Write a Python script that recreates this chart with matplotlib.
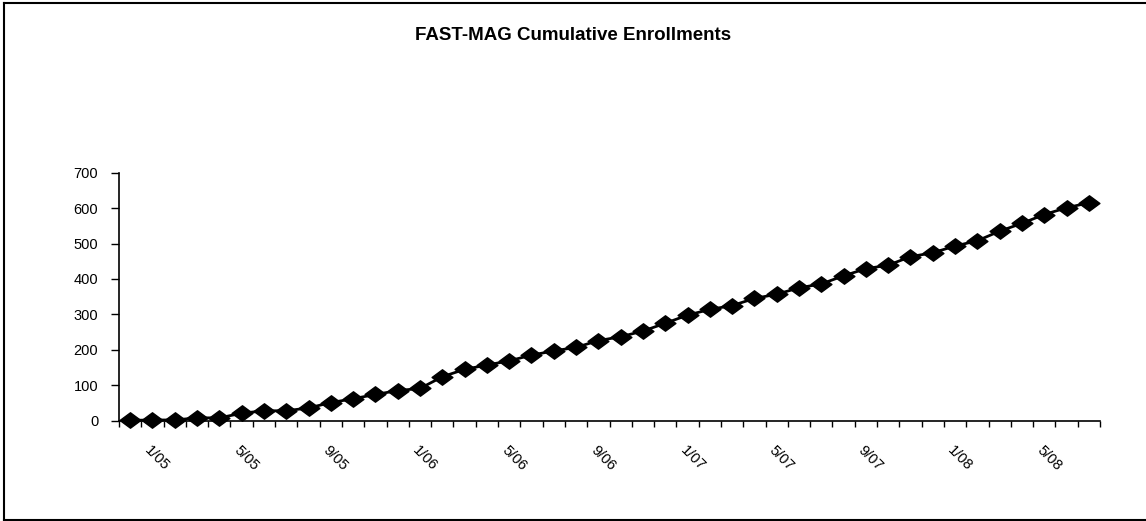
"""FAST-MAG cumulative enrollments, monthly, 1/05 through 8/08."""

import matplotlib

matplotlib.use("Agg")

import matplotlib.pyplot as plt  # noqa: E402
from matplotlib.lines import Line2D  # noqa: E402
from matplotlib.path import Path  # noqa: E402
from matplotlib.transforms import ScaledTranslation  # noqa: E402

# Monthly categories, Jan 2005 .. Aug 2008
months = [f"{m}/{y:02d}" for y in (5, 6, 7, 8) for m in range(1, 13)][:44]
enrollments = [
    1, 2, 2, 8, 8, 21, 28, 28, 36, 51, 62, 74,
    85, 91, 124, 145, 157, 169, 185, 197, 207, 226, 237, 253,
    275, 298, 314, 325, 345, 357, 375, 386, 409, 429, 439, 463,
    474, 493, 508, 535, 557, 582, 601, 615,
]
label_every = 4
y_ticks = [0, 100, 200, 300, 400, 500, 600, 700]

_INK = "#000000"
_FONT = "Liberation Sans"

plt.rcParams["font.family"] = [_FONT, "DejaVu Sans"]

W, H, DPI = 1146, 521, 100
fig = plt.figure(figsize=(W / DPI, H / DPI), dpi=DPI)
ax = fig.add_axes([119 / W, 1 - 420.7 / H, 981 / W, 248 / H])

# Excel-style diamond, a bit wider than tall
diamond = Path([(-1, 0), (0, 0.74), (1, 0), (0, -0.74), (-1, 0)],
               [Path.MOVETO, Path.LINETO, Path.LINETO, Path.LINETO, Path.CLOSEPOLY])

x = list(range(len(months)))
ax.plot(x, enrollments, color=_INK, lw=2, marker=diamond, markersize=15,
        markerfacecolor=_INK, markeredgecolor=_INK, clip_on=False, zorder=3)

ax.set_xlim(-0.5, len(months) - 0.5)
ax.set_ylim(0, 700)

for side in ("top", "right"):
    ax.spines[side].set_visible(False)
for side in ("left", "bottom"):
    ax.spines[side].set_color(_INK)
    ax.spines[side].set_linewidth(1.2)

# y axis
ax.set_yticks(y_ticks)
ax.set_yticklabels([str(v) for v in y_ticks])
ax.tick_params(axis="y", direction="out", length=6, width=1, color=_INK,
               pad=9, labelsize=10.5, labelcolor=_INK)

# x axis: tick marks between categories, labels every 4 months
ax.set_xticks([i - 0.5 for i in range(len(months) + 1)], minor=True)
label_pos = x[::label_every]
ax.set_xticks(label_pos)
ax.set_xticklabels([months[i] for i in label_pos])
ax.tick_params(axis="x", which="minor", direction="out", length=4, width=1, color=_INK)
ax.tick_params(axis="x", which="major", length=0, pad=16, labelsize=10.5, labelcolor=_INK)
shift = ScaledTranslation(22 / DPI, 0, fig.dpi_scale_trans)
for lbl in ax.get_xticklabels():
    lbl.set_rotation(-45)
    lbl.set_rotation_mode("anchor")
    lbl.set_ha("left")
    lbl.set_va("top")
    lbl.set_transform(lbl.get_transform() + shift)

fig.text(0.5, 1 - 39.5 / H, "FAST-MAG Cumulative Enrollments", ha="center",
         va="baseline", fontsize=13.5, fontweight="bold", color=_INK)

# chart-area frame (right edge runs off the picture)
for xs, ys in (([4, 4], [3, 520]), ([4, W + 5], [3, 3]), ([4, W + 5], [520, 520])):
    fig.add_artist(Line2D([v / W for v in xs], [1 - v / H for v in ys],
                          transform=fig.transFigure, color=_INK, lw=1.5))

fig.savefig("out.png", dpi=DPI)
plt.close(fig)
